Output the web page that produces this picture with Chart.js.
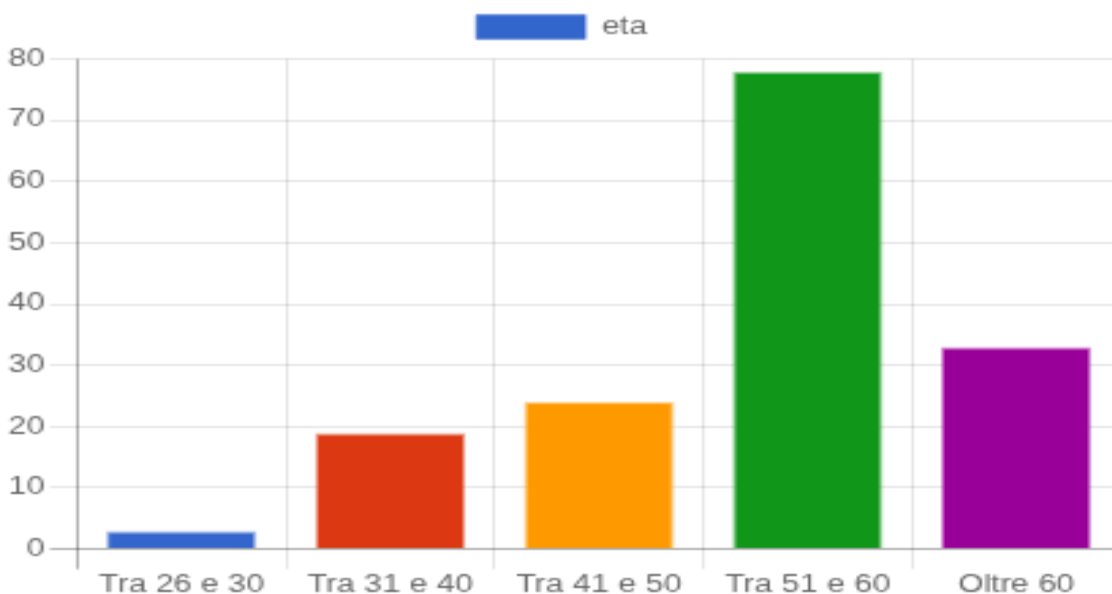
<!DOCTYPE html>
<html>
<head>
<meta charset="utf-8">
<script src="https://cdn.jsdelivr.net/npm/chart.js@4/dist/chart.umd.min.js"></script>
<style>
    html, body { margin: 0; padding: 0; background: #fff; }
    #frame { width: 1112px; height: 594px; overflow: hidden; position: relative; }
    #inner { width: 412px; height: 301px; transform: scale(2.72, 2); transform-origin: 0 0; }
</style>
</head>
<body>
<div id="frame"><div id="inner"><canvas id="chart" width="412" height="301" style="width:412px;height:301px"></canvas></div></div>
<script>
const categories = ["Tra 26 e 30", "Tra 31 e 40", "Tra 41 e 50", "Tra 51 e 60", "Oltre 60"];
const etaValues = [3, 19, 24, 78, 33];
const yTicks = [0, 10, 20, 30, 40, 50, 60, 70, 80];

const barColors = ["#3366cc", "#dc3912", "#ff9900", "#109618", "#990099"];
const barBorders = ["rgba(51,102,204,0.5)", "rgba(220,57,18,0.5)", "rgba(255,153,0,0.5)", "rgba(16,150,24,0.5)", "rgba(153,0,153,0.5)"];

const gridLight = "rgba(0,0,0,0.1)";
const gridDark = "rgba(0,0,0,0.32)";

Chart.defaults.font.family = "'Liberation Sans', Arial, Helvetica, sans-serif";
Chart.defaults.font.size = 12;
Chart.defaults.color = "#666";

new Chart(document.getElementById("chart"), {
    type: "bar",
    data: {
        labels: categories,
        datasets: [
            {
                label: "eta",
                data: etaValues,
                backgroundColor: barColors,
                borderColor: barBorders,
                borderWidth: 1,
            },
        ],
    },
    options: {
        responsive: false,
        animation: false,
        devicePixelRatio: 1,
        layout: { padding: { left: 1, top: 0.5, right: 0, bottom: 0 } },
        plugins: {
            tooltip: { enabled: false },
            legend: {
                display: true,
                labels: {
                    boxWidth: 40,
                    boxHeight: 12,
                    padding: 7,
                    generateLabels: () => [
                        {
                            text: "eta",
                            fillStyle: barColors[0],
                            strokeStyle: barBorders[0],
                            lineWidth: 1,
                            fontColor: "#666",
                            datasetIndex: 0,
                        },
                    ],
                },
            },
        },
        scales: {
            x: {
                grid: {
                    color: (c) => (c.index === 0 ? gridDark : gridLight),
                    tickLength: 10,
                },
                border: { display: false },
                ticks: { padding: 1 },
            },
            y: {
                min: yTicks[0],
                max: yTicks[yTicks.length - 1],
                afterBuildTicks: (scale) => {
                    scale.ticks = yTicks.map((v) => ({ value: v }));
                },
                grid: {
                    color: (c) => (c.tick && c.tick.value === 0 ? gridDark : gridLight),
                    tickLength: 10,
                },
                border: { display: false },
                ticks: { padding: 2 },
            },
        },
    },
});
</script>
</body>
</html>
